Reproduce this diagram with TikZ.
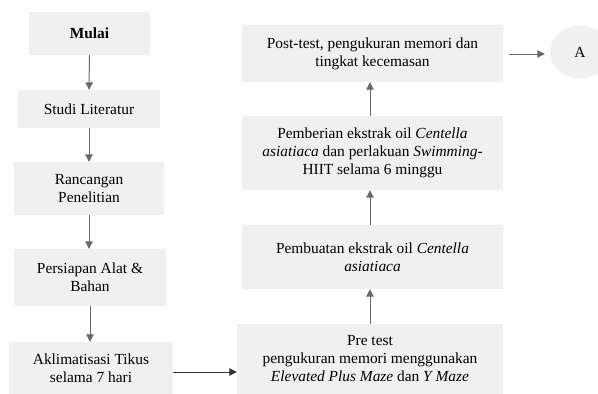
\documentclass[tikz,border=0pt]{standalone}
\usepackage{fontspec}
\setmainfont{Liberation Serif}
\usetikzlibrary{arrows.meta,shapes.geometric}
\definecolor{boxfill}{HTML}{F0F0F0}
\definecolor{arr}{HTML}{686868}
\begin{document}
\begin{tikzpicture}[x=1pt,y=-1pt,
  box/.style={fill=boxfill, inner sep=0pt, align=center, font=\fontsize{15.4}{18}\selectfont},
  flow/.style={draw=arr, line width=1pt, -{Triangle[length=7.5pt,width=7.5pt]}}]
\useasboundingbox (0,0) rectangle (598,394);
\clip (0,0) rectangle (598,394);
% left column
\node[box, minimum width=121pt, minimum height=43pt] (mulai) at (89.5,33.5) {\textbf{Mulai}};
\node[box, minimum width=142pt, minimum height=38pt] (studi) at (89,109) {Studi Literatur};
\node[box, minimum width=150pt, minimum height=53pt] (ranc) at (89,188.5) {Rancangan\\Penelitian};
\node[box, minimum width=152pt, minimum height=57pt] (pers) at (90,277.5) {Persiapan Alat \&\\Bahan};
\node[box, minimum width=164pt, minimum height=52pt] (akl) at (91,368) {Aklimatisasi Tikus\\selama 7 hari};
% right column
\node[box, minimum width=261pt, minimum height=57pt] (post) at (372.5,53.5) {Post-test, pengukuran memori dan\\tingkat kecemasan};
\node[box, minimum width=261pt, minimum height=74pt] (pemb) at (372.5,153) {Pemberian ekstrak oil \textit{Centella}\\\textit{asiatiaca} dan perlakuan \textit{Swimming}-\\HIIT selama 6 minggu};
\node[box, minimum width=261pt, minimum height=64pt] (buat) at (372.5,257) {Pembuatan ekstrak oil \textit{Centella}\\\textit{asiatiaca}};
\node[box, minimum width=266pt, minimum height=70pt] (pre) at (370,359) {Pre test\\pengukuran memori menggunakan\\\textit{Elevated Plus Maze} dan \textit{Y Maze}};
\node[ellipse, fill=boxfill, inner sep=0pt, minimum width=60pt, minimum height=53pt, font=\fontsize{15.4}{18}\selectfont] (A) at (580,52) {A};
% connectors
\coordinate (v) at (370,0);
\coordinate (h) at (0,372);
\coordinate (ha) at (0,54);
\draw[flow] (mulai) -- (studi);
\draw[flow] (studi) -- (ranc);
\draw[flow] (ranc.south) -- (pers.north -| ranc.south);
\draw[flow] (pers.south) -- (akl.north -| pers.south);
\draw[flow, draw=black!80] (akl.east |- h) -- (pre.west |- h);
\draw[flow] (pre.north -| v) -- (buat.south -| v);
\draw[flow] (buat.north -| v) -- (pemb.south -| v);
\draw[flow] (pemb.north -| v) -- (post.south -| v);
\draw[flow] ([xshift=6pt]post.east |- ha) -- ([xshift=-5pt]A.west |- ha);
\end{tikzpicture}
\end{document}
